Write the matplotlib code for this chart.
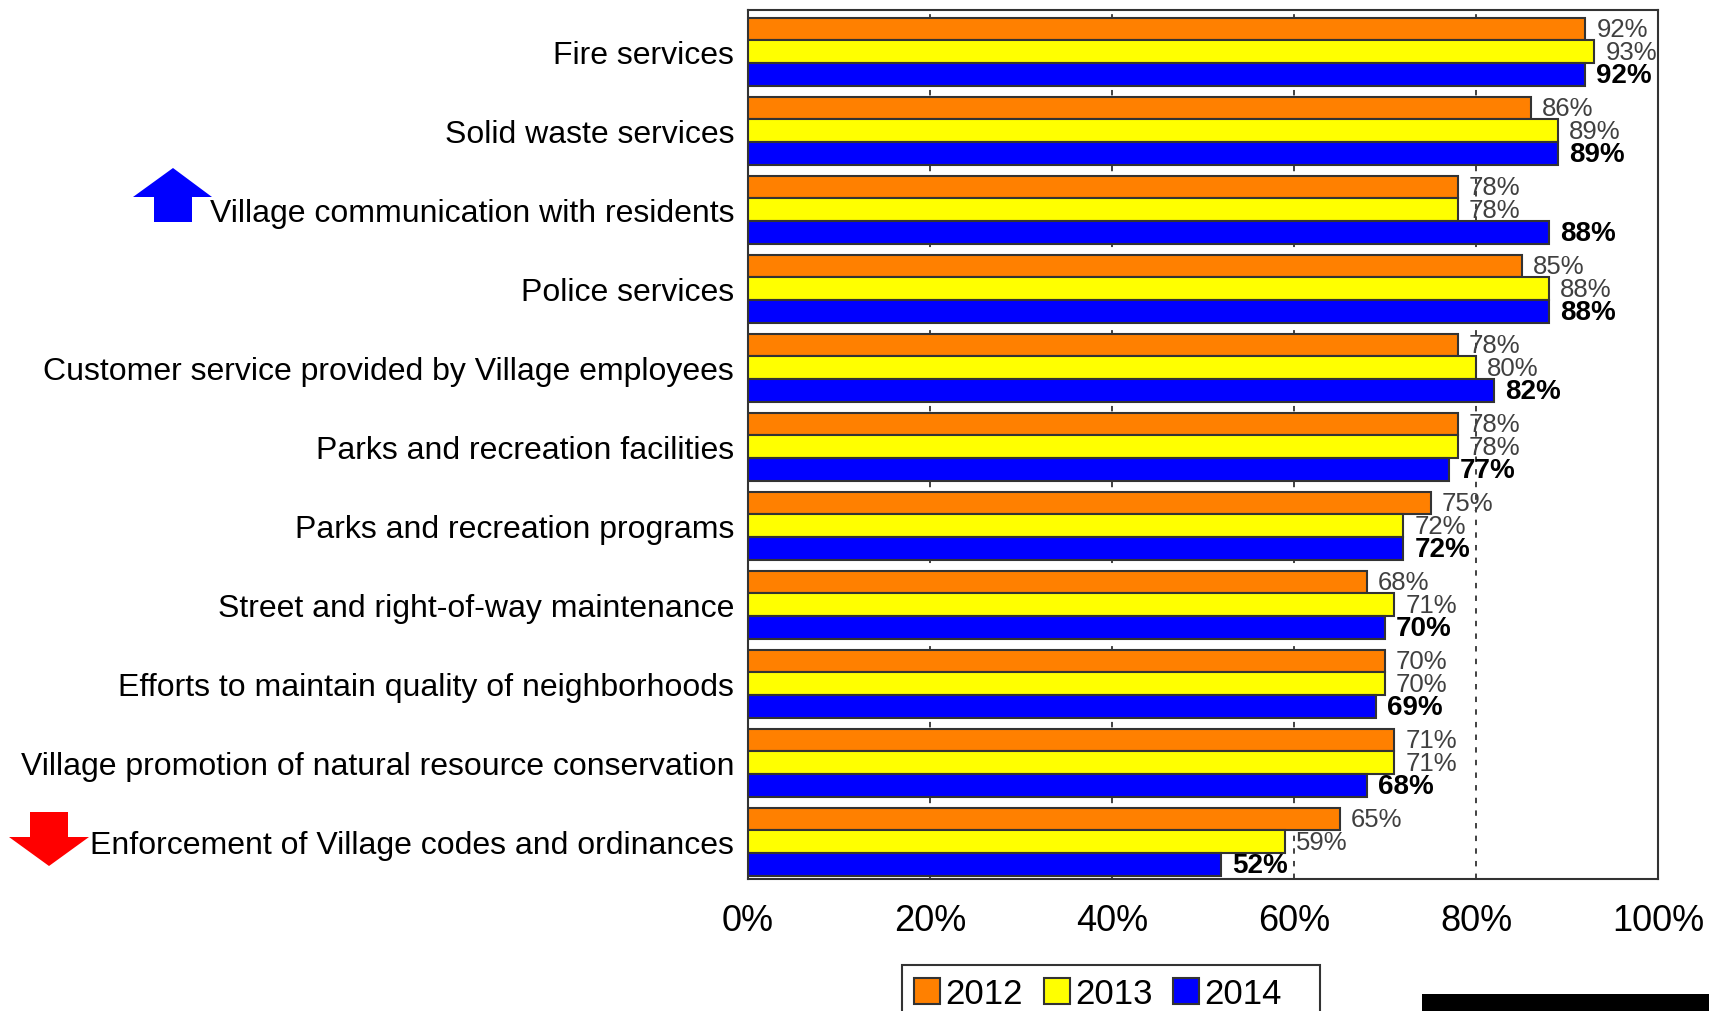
import matplotlib
matplotlib.use('Agg')
from matplotlib import pyplot as plt
from matplotlib.patches import Polygon, Rectangle
import numpy as np

plt.rcParams['font.family'] = ['Liberation Sans', 'DejaVu Sans']

categories = ['Fire services',
              'Solid waste services',
              'Village communication with residents',
              'Police services',
              'Customer service provided by Village employees',
              'Parks and recreation facilities',
              'Parks and recreation programs',
              'Street and right-of-way maintenance',
              'Efforts to maintain quality of neighborhoods',
              'Village promotion of natural resource conservation',
              'Enforcement of Village codes and ordinances']
v2012 = [92, 86, 78, 85, 78, 78, 75, 68, 70, 71, 65]
v2013 = [93, 89, 78, 88, 80, 78, 72, 71, 70, 71, 59]
v2014 = [92, 89, 88, 88, 82, 77, 72, 70, 69, 68, 52]
years = ['2012', '2013', '2014']
colors = ['#FF8000', '#FFFF00', '#0000FF']
xticks = [0, 20, 40, 60, 80, 100]

W, H = 1709, 1012
fig = plt.figure(figsize=(W / 100, H / 100), dpi=100)
ax = fig.add_axes([748 / W, 1 - 880 / H, (1658 - 748) / W, (880 - 11) / H])

y = np.arange(len(categories))
bh = 0.29
series = [v2012, v2013, v2014]
for k, (vals, col, yr) in enumerate(zip(series, colors, years)):
    pos = y + (k - 1) * bh
    ax.barh(pos, vals, height=bh, color=col, edgecolor='#333333',
            linewidth=1.5, label=yr, zorder=3)
    for p, v in zip(pos, vals):
        if k == 2:
            ax.annotate(f'{v}%', (v, p), xytext=(8, 0), textcoords='offset points',
                        va='center', ha='left', fontsize=20, fontweight='bold',
                        color='black', zorder=5)
        else:
            ax.annotate(f'{v}%', (v, p), xytext=(8, 0), textcoords='offset points',
                        va='center', ha='left', fontsize=18.5, color='#404040',
                        zorder=5)

ax.set_xlim(0, 100)
ax.set_ylim(len(categories) - 1 + 0.47, -0.53)
ax.set_yticks(y)
ax.set_yticklabels(categories, fontsize=23)
ax.set_xticks(xticks)
ax.set_xticklabels([f'{t}%' for t in xticks], fontsize=26)
ax.tick_params(axis='both', length=0)
ax.tick_params(axis='y', pad=10)
ax.tick_params(axis='x', pad=17)
for t in xticks[1:-1]:
    ax.axvline(t, color='#333333', linestyle=(0, (3, 4)), linewidth=1.3, zorder=1)
for s in ax.spines.values():
    s.set_color('#333333')
    s.set_linewidth(1.5)

# legend entries without frame, box drawn separately (runs off the bottom)
leg = fig.legend(loc='upper left', bbox_to_anchor=(902 / W, 1 - 966 / H),
                 ncol=3, fontsize=25, frameon=False,
                 handlelength=0.75, handleheight=0.75,
                 handletextpad=0.15, columnspacing=0.6, borderpad=0.35,
                 borderaxespad=0)
fig.patches.append(Rectangle((902 / W, -0.02), (1320 - 902) / W, 0.02 + (1012 - 966) / H,
                             facecolor='none', edgecolor='#333333', linewidth=1.5,
                             transform=fig.transFigure))

# trend arrows (figure pixel coordinates)
def px(pts):
    return [(a / W, 1 - b / H) for a, b in pts]

up = px([(173, 169), (212, 198), (192, 198), (192, 223), (154, 223), (154, 198), (133, 198)])
down = px([(30, 813), (68, 813), (68, 838), (89, 838), (49, 867), (9, 838), (30, 838)])
fig.patches.append(Polygon(up, closed=True, facecolor='#0000FF', edgecolor='none',
                           transform=fig.transFigure))
fig.patches.append(Polygon(down, closed=True, facecolor='#FF0000', edgecolor='none',
                           transform=fig.transFigure))
fig.patches.append(Rectangle((1422 / W, 0), (W - 1422) / W, 17 / H, facecolor='black',
                             edgecolor='none', transform=fig.transFigure))

fig.savefig('out.png', dpi=100)
